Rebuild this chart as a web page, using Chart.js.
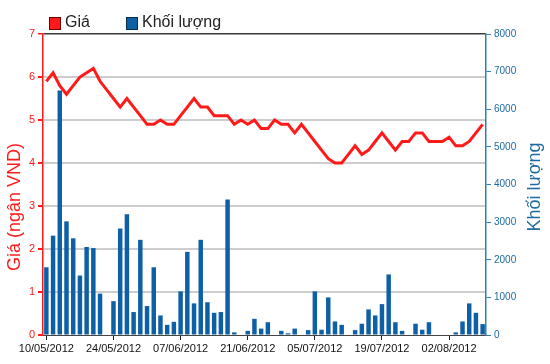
<!DOCTYPE html>
<html>
<head>
<meta charset="utf-8">
<script src="https://cdn.jsdelivr.net/npm/chart.js@4.4.1/dist/chart.umd.min.js"></script>
<style>
  body { margin: 0; background: #fff; }
</style>
</head>
<body>
<canvas id="myChart" width="550" height="364"></canvas>
<script>
// trading days (weekdays) shown on the x axis
const days = [
    "10/05/2012", "11/05/2012", "14/05/2012", "15/05/2012", "16/05/2012", "17/05/2012", "18/05/2012",
    "21/05/2012", "22/05/2012", "23/05/2012", "24/05/2012", "25/05/2012", "28/05/2012", "29/05/2012",
    "30/05/2012", "31/05/2012", "01/06/2012", "04/06/2012", "05/06/2012", "06/06/2012", "07/06/2012",
    "08/06/2012", "11/06/2012", "12/06/2012", "13/06/2012", "14/06/2012", "15/06/2012", "18/06/2012",
    "19/06/2012", "20/06/2012", "21/06/2012", "22/06/2012", "25/06/2012", "26/06/2012", "27/06/2012",
    "28/06/2012", "29/06/2012", "02/07/2012", "03/07/2012", "04/07/2012", "05/07/2012", "06/07/2012",
    "09/07/2012", "10/07/2012", "11/07/2012", "12/07/2012", "13/07/2012", "16/07/2012", "17/07/2012",
    "18/07/2012", "19/07/2012", "20/07/2012", "23/07/2012", "24/07/2012", "25/07/2012", "26/07/2012",
    "27/07/2012", "30/07/2012", "31/07/2012", "01/08/2012", "02/08/2012", "03/08/2012", "06/08/2012",
    "07/08/2012", "08/08/2012", "09/08/2012"
];

// only these dates get a label + tick mark
const tickDates = ["10/05/2012", "24/05/2012", "07/06/2012", "21/06/2012", "05/07/2012", "19/07/2012", "02/08/2012"];

// Giá (ngàn VND)
const prices = [
    5.9, 6.1, 5.8, 5.6, 5.8, 6.0, 6.1, 6.2, 5.9, 5.7,
    5.5, 5.3, 5.5, 5.3, 5.1, 4.9, 4.9, 5.0, 4.9, 4.9,
    5.1, 5.3, 5.5, 5.3, 5.3, 5.1, 5.1, 5.1, 4.9, 5.0,
    4.9, 5.0, 4.8, 4.8, 5.0, 4.9, 4.9, 4.7, 4.9, 4.7,
    4.5, 4.3, 4.1, 4.0, 4.0, 4.2, 4.4, 4.2, 4.3, 4.5,
    4.7, 4.5, 4.3, 4.5, 4.5, 4.7, 4.7, 4.5, 4.5, 4.5,
    4.6, 4.4, 4.4, 4.5, 4.7, 4.9
];

// Khối lượng
const volumes = [
    1800, 2640, 6500, 3020, 2570, 1580, 2340, 2310, 1100, 0,
    900, 2830, 3210, 610, 2530, 770, 1800, 520, 270, 350,
    1160, 2210, 840, 2530, 870, 590, 610, 3600, 70, 0,
    110, 430, 170, 340, 0, 110, 45, 170, 0, 130,
    1160, 140, 1000, 360, 270, 0, 130, 300, 680, 520,
    820, 1610, 340, 110, 0, 300, 140, 340, 0, 0,
    0, 70, 360, 840, 590, 290
];

const priceTicks = [0, 1, 2, 3, 4, 5, 6, 7];
const volumeTicks = [0, 1000, 2000, 3000, 4000, 5000, 6000, 7000, 8000];

const RED = "#ff1a1a";
const BLUE = "#0d5fa6";
const AXIS_BLUE = "#2d7fb8";
const FONT = '"Liberation Sans", Arial, sans-serif';

// legend + axis titles drawn by hand so they sit where the original has them
const extras = {
    id: "extras",
    afterDraw(chart) {
        const ctx = chart.ctx;
        ctx.save();

        // legend
        ctx.font = "16px " + FONT;
        ctx.textBaseline = "middle";
        ctx.lineWidth = 1;
        ctx.fillStyle = RED;
        ctx.fillRect(49.5, 17.5, 11, 12);
        ctx.strokeStyle = "#6a0000";
        ctx.strokeRect(49.5, 17.5, 11, 12);
        ctx.fillStyle = "#222";
        ctx.fillText("Giá", 65, 23);

        ctx.fillStyle = BLUE;
        ctx.fillRect(126.5, 17.5, 11, 12);
        ctx.strokeStyle = "#0a2a4a";
        ctx.strokeRect(126.5, 17.5, 11, 12);
        ctx.fillStyle = "#222";
        ctx.fillText("Khối lượng", 142, 23);

        // left title
        ctx.font = "18px " + FONT;
        ctx.textAlign = "center";
        ctx.fillStyle = RED;
        ctx.save();
        ctx.translate(15, 207);
        ctx.rotate(-Math.PI / 2);
        ctx.fillText("Giá (ngân VND)", 0, 0);
        ctx.restore();

        // right title
        ctx.fillStyle = "#1f6a9e";
        ctx.save();
        ctx.translate(535, 187);
        ctx.rotate(-Math.PI / 2);
        ctx.fillText("Khối lượng", 0, 0);
        ctx.restore();

        ctx.restore();
    }
};

var ctx = document.getElementById("myChart").getContext("2d");
var chart = new Chart(ctx, {
    type: "bar",
    data: {
        labels: days,
        datasets: [{
            type: "line",
            label: "Giá",
            data: prices,
            yAxisID: "yPrice",
            borderColor: RED,
            borderWidth: 3,
            pointRadius: 0,
            tension: 0,
            order: 1
        }, {
            type: "bar",
            label: "Khối lượng",
            data: volumes,
            yAxisID: "yVol",
            backgroundColor: BLUE,
            barPercentage: 0.7,
            categoryPercentage: 0.95,
            order: 2
        }]
    },
    options: {
        responsive: false,
        animation: false,
        events: [],
        layout: { padding: { top: 34, right: 0, left: 0, bottom: 0 } },
        plugins: {
            legend: { display: false },
            tooltip: { enabled: false }
        },
        scales: {
            x: {
                offset: true,
                grid: {
                    offset: false,
                    drawOnChartArea: false,
                    tickLength: 5,
                    tickColor: "#222"
                },
                border: { color: "#444", width: 1 },
                ticks: {
                    autoSkip: false,
                    maxRotation: 0,
                    padding: 2,
                    color: "#111",
                    font: { family: FONT, size: 11 },
                    callback: function (value, index) {
                        const d = days[index];
                        return tickDates.includes(d) ? d : null;
                    }
                },
                afterFit: function (scale) { scale.height = 29; }
            },
            yPrice: {
                position: "left",
                min: 0,
                max: 7,
                afterBuildTicks: function (scale) {
                    scale.ticks = priceTicks.map(v => ({ value: v }));
                },
                grid: {
                    color: function (c) {
                        if (c.tick.value === 7) return "#3a3a3a";
                        if (c.tick.value === 0) return "rgba(0,0,0,0)";
                        return "#cdcdcd";
                    },
                    lineWidth: function (c) { return c.tick.value === 7 ? 1.5 : 2; },
                    tickColor: RED,
                    tickLength: 5
                },
                border: { color: RED, width: 1.5 },
                ticks: {
                    color: RED,
                    padding: 3,
                    font: { family: FONT, size: 11 },
                    callback: function (value) { return String(value); }
                },
                afterFit: function (scale) { scale.width = 43; }
            },
            yVol: {
                position: "right",
                min: 0,
                max: 8000,
                afterBuildTicks: function (scale) {
                    scale.ticks = volumeTicks.map(v => ({ value: v }));
                },
                grid: {
                    drawOnChartArea: false,
                    tickColor: AXIS_BLUE,
                    tickLength: 5
                },
                border: { color: AXIS_BLUE, width: 1.5 },
                ticks: {
                    color: "#1f6a9e",
                    padding: 3,
                    font: { family: FONT, size: 10 },
                    callback: function (value) { return String(value); }
                },
                afterFit: function (scale) { scale.width = 64; }
            }
        }
    },
    plugins: [extras]
});
</script>
</body>
</html>
